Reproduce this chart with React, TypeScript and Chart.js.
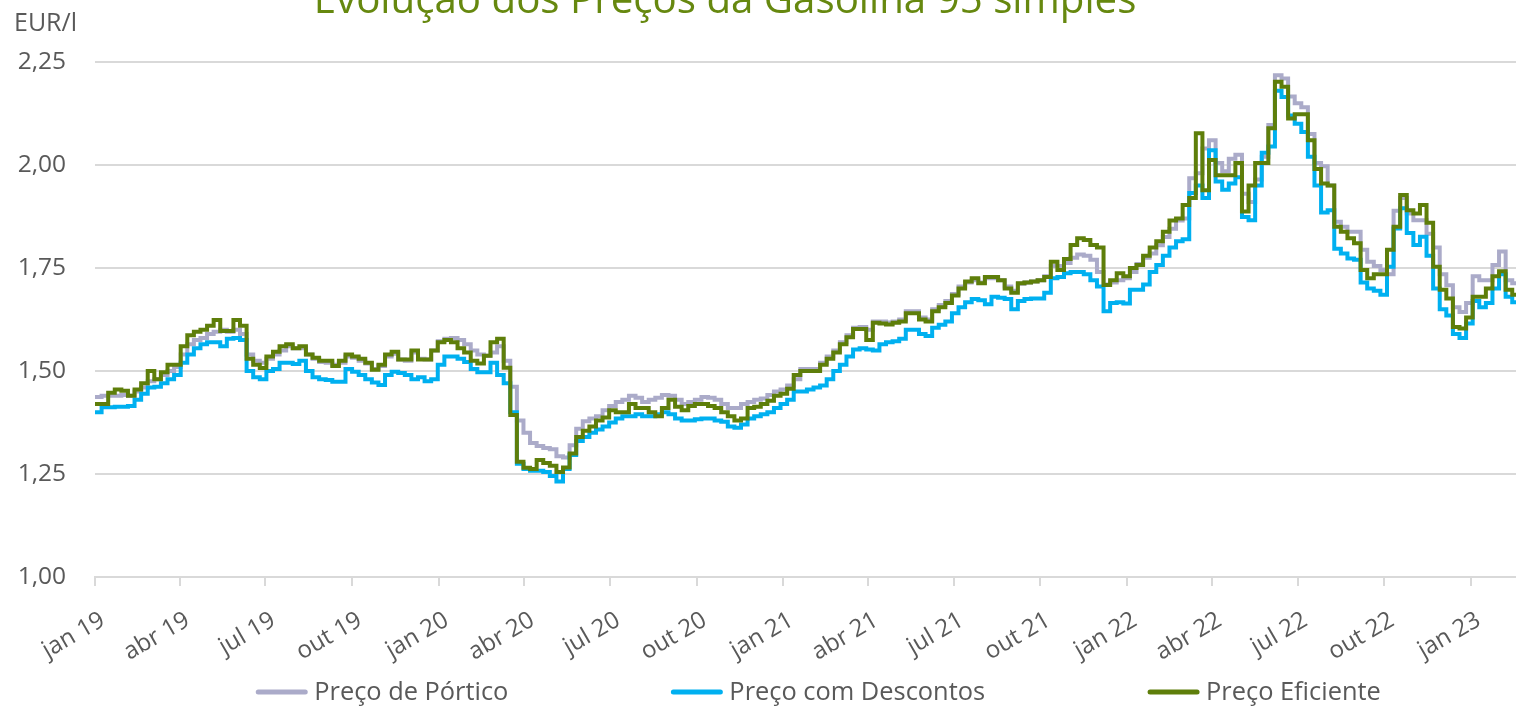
import React, { useEffect, useRef } from 'react';
import { Chart, registerables } from 'chart.js';

Chart.register(...registerables);

const TITLE = 'Evolução dos Preços da Gasolina 95 simples';
const Y_UNIT = 'EUR/l';
const SERIES_NAMES = ['Preço de Pórtico', 'Preço com Descontos', 'Preço Eficiente'];
const SERIES_COLORS = ['#ABABC9', '#00B0F0', '#5E7E0A'];

// quarter tick labels and their day offsets from 1 Jan 2019
const QUARTER_LABELS = ['jan 19', 'abr 19', 'jul 19', 'out 19', 'jan 20', 'abr 20', 'jul 20', 'out 20', 'jan 21', 'abr 21', 'jul 21', 'out 21', 'jan 22', 'abr 22', 'jul 22', 'out 22', 'jan 23'];
const QUARTER_DAYS = [0, 90, 181, 273, 365, 456, 547, 639, 731, 821, 912, 1004, 1096, 1186, 1277, 1369, 1461];
const Y_MIN = 1;
const Y_MAX = 2.25;
const Y_STEP = 0.25;
const DAYS_PER_POINT = 7; // weekly readings starting the first week of January 2019
const X_MAX_DAY = 1509;

const PORTICO = [
  1.437, 1.44, 1.44, 1.44, 1.442, 1.44, 1.45, 1.46, 1.475, 1.48,
  1.49, 1.50, 1.51, 1.54, 1.565, 1.575, 1.58, 1.59, 1.595, 1.60,
  1.595, 1.60, 1.59, 1.54, 1.525, 1.52, 1.53, 1.54, 1.55, 1.56,
  1.555, 1.555, 1.54, 1.53, 1.522, 1.52, 1.515, 1.52, 1.535, 1.532,
  1.525, 1.518, 1.505, 1.512, 1.535, 1.542, 1.528, 1.525, 1.545, 1.53,
  1.528, 1.55, 1.572, 1.578, 1.58, 1.575, 1.565, 1.55, 1.54, 1.537,
  1.545, 1.56, 1.525, 1.462, 1.38, 1.35, 1.325, 1.318, 1.313, 1.31,
  1.293, 1.29, 1.32, 1.36, 1.378, 1.385, 1.39, 1.405, 1.415, 1.425,
  1.43, 1.44, 1.435, 1.425, 1.43, 1.435, 1.442, 1.44, 1.43, 1.42,
  1.425, 1.43, 1.437, 1.435, 1.43, 1.42, 1.41, 1.41, 1.42, 1.425,
  1.43, 1.433, 1.442, 1.45, 1.455, 1.465, 1.48, 1.505, 1.505, 1.505,
  1.52, 1.535, 1.55, 1.57, 1.587, 1.605, 1.607, 1.60, 1.62, 1.62,
  1.618, 1.62, 1.625, 1.645, 1.645, 1.63, 1.625, 1.65, 1.66, 1.67,
  1.687, 1.705, 1.715, 1.72, 1.715, 1.725, 1.725, 1.72, 1.705, 1.695,
  1.712, 1.715, 1.717, 1.72, 1.73, 1.755, 1.755, 1.762, 1.775, 1.783,
  1.78, 1.77, 1.74, 1.71, 1.715, 1.72, 1.725, 1.74, 1.76, 1.775,
  1.785, 1.805, 1.825, 1.845, 1.865, 1.87, 1.968, 1.98, 2.04, 2.06,
  2.005, 1.985, 2.015, 2.025, 1.93, 1.91, 1.965, 2.02, 2.097, 2.218,
  2.21, 2.166, 2.15, 2.14, 2.075, 2.005, 1.997, 1.95, 1.862, 1.85,
  1.838, 1.838, 1.794, 1.765, 1.755, 1.745, 1.735, 1.889, 1.92, 1.882,
  1.866, 1.866, 1.833, 1.80, 1.735, 1.708, 1.655, 1.643, 1.665, 1.73,
  1.72, 1.72, 1.757, 1.79, 1.72, 1.713, 1.713,
];

const DESCONTOS = [
  1.40, 1.412, 1.412, 1.413, 1.413, 1.415, 1.43, 1.445, 1.46, 1.462,
  1.47, 1.48, 1.49, 1.52, 1.54, 1.555, 1.565, 1.57, 1.57, 1.56,
  1.578, 1.58, 1.575, 1.50, 1.485, 1.48, 1.50, 1.505, 1.52, 1.52,
  1.517, 1.525, 1.50, 1.485, 1.48, 1.478, 1.474, 1.474, 1.505, 1.498,
  1.49, 1.48, 1.472, 1.466, 1.49, 1.498, 1.495, 1.49, 1.48, 1.485,
  1.475, 1.48, 1.515, 1.535, 1.535, 1.53, 1.522, 1.505, 1.497, 1.497,
  1.52, 1.49, 1.47, 1.40, 1.275, 1.262, 1.258, 1.258, 1.255, 1.245,
  1.232, 1.262, 1.296, 1.33, 1.34, 1.35, 1.358, 1.365, 1.375, 1.385,
  1.39, 1.39, 1.395, 1.39, 1.39, 1.395, 1.40, 1.395, 1.385, 1.38,
  1.38, 1.383, 1.385, 1.385, 1.38, 1.377, 1.365, 1.362, 1.37, 1.385,
  1.39, 1.395, 1.40, 1.41, 1.42, 1.43, 1.45, 1.45, 1.455, 1.46,
  1.465, 1.48, 1.50, 1.515, 1.535, 1.552, 1.555, 1.552, 1.55, 1.565,
  1.57, 1.572, 1.578, 1.60, 1.60, 1.59, 1.585, 1.605, 1.612, 1.62,
  1.64, 1.655, 1.667, 1.675, 1.672, 1.662, 1.68, 1.678, 1.675, 1.65,
  1.67, 1.675, 1.676, 1.676, 1.69, 1.725, 1.728, 1.737, 1.74, 1.74,
  1.735, 1.72, 1.705, 1.645, 1.665, 1.667, 1.664, 1.697, 1.697, 1.71,
  1.74, 1.757, 1.78, 1.80, 1.815, 1.82, 1.932, 1.95, 1.92, 2.036,
  1.96, 1.94, 1.955, 1.97, 1.874, 1.866, 1.95, 2.03, 2.045, 2.18,
  2.165, 2.12, 2.10, 2.08, 2.02, 1.95, 1.885, 1.89, 1.797, 1.785,
  1.773, 1.77, 1.715, 1.70, 1.695, 1.685, 1.753, 1.846, 1.895, 1.835,
  1.806, 1.826, 1.78, 1.70, 1.65, 1.635, 1.59, 1.58, 1.615, 1.67,
  1.655, 1.665, 1.70, 1.735, 1.68, 1.667, 1.665,
];

const EFICIENTE = [
  1.42, 1.42, 1.447, 1.455, 1.452, 1.44, 1.455, 1.47, 1.50, 1.48,
  1.497, 1.515, 1.515, 1.56, 1.587, 1.595, 1.60, 1.61, 1.624, 1.597,
  1.597, 1.624, 1.61, 1.53, 1.515, 1.507, 1.535, 1.547, 1.56, 1.565,
  1.555, 1.56, 1.54, 1.532, 1.525, 1.525, 1.512, 1.525, 1.54, 1.535,
  1.53, 1.52, 1.503, 1.515, 1.54, 1.547, 1.528, 1.528, 1.55, 1.528,
  1.528, 1.55, 1.57, 1.575, 1.57, 1.555, 1.545, 1.525, 1.518, 1.537,
  1.57, 1.578, 1.508, 1.393, 1.28, 1.265, 1.262, 1.284, 1.277, 1.27,
  1.255, 1.266, 1.30, 1.34, 1.355, 1.365, 1.38, 1.387, 1.405, 1.40,
  1.40, 1.42, 1.41, 1.41, 1.40, 1.39, 1.41, 1.43, 1.413, 1.405,
  1.415, 1.42, 1.42, 1.415, 1.41, 1.40, 1.39, 1.38, 1.385, 1.41,
  1.413, 1.42, 1.428, 1.44, 1.445, 1.457, 1.49, 1.50, 1.50, 1.50,
  1.515, 1.53, 1.545, 1.565, 1.582, 1.602, 1.602, 1.575, 1.617, 1.615,
  1.613, 1.617, 1.62, 1.64, 1.64, 1.625, 1.62, 1.645, 1.655, 1.665,
  1.683, 1.70, 1.717, 1.725, 1.713, 1.728, 1.728, 1.72, 1.70, 1.69,
  1.713, 1.715, 1.717, 1.72, 1.728, 1.765, 1.745, 1.772, 1.806, 1.822,
  1.818, 1.806, 1.80, 1.709, 1.72, 1.737, 1.73, 1.75, 1.757, 1.78,
  1.80, 1.815, 1.838, 1.865, 1.87, 1.903, 1.92, 2.077, 1.939, 2.012,
  1.975, 1.975, 1.975, 2.005, 1.887, 1.95, 2.005, 2.005, 2.089, 2.202,
  2.19, 2.113, 2.123, 2.123, 2.06, 1.99, 1.955, 1.95, 1.85, 1.838,
  1.822, 1.81, 1.745, 1.725, 1.735, 1.735, 1.794, 1.85, 1.927, 1.89,
  1.882, 1.903, 1.86, 1.753, 1.697, 1.676, 1.607, 1.603, 1.63, 1.68,
  1.68, 1.70, 1.73, 1.742, 1.697, 1.685, 1.685,
];

const FONT = '"Open Sans", "DejaVu Sans", sans-serif';
const TEXT_COLOR = '#595959';
const GRID_COLOR = '#D9D9D9';

const toPoints = (arr: number[]) => arr.map((v, i) => ({ x: i * DAYS_PER_POINT, y: v }));
const fmt = (v: number) => v.toFixed(2).replace('.', ',');

const decorPlugin = {
  id: 'decor',
  afterDraw(chart: any) {
    const ctx = chart.ctx as CanvasRenderingContext2D;
    const area = chart.chartArea;
    ctx.save();
    // title (partly cut at the top in the reference)
    ctx.font = `100px ${FONT}`;
    const w100 = ctx.measureText(TITLE).width;
    const size = (100 * 823) / w100;
    ctx.font = `${size}px ${FONT}`;
    ctx.fillStyle = '#66880F';
    ctx.textAlign = 'center';
    ctx.textBaseline = 'alphabetic';
    ctx.fillText(TITLE, 725, 13);
    // unit label
    ctx.font = `25px ${FONT}`;
    ctx.fillStyle = TEXT_COLOR;
    ctx.textAlign = 'left';
    ctx.fillText(Y_UNIT, 14, 31);
    // legend
    ctx.font = `25.4px ${FONT}`;
    ctx.textBaseline = 'middle';
    const lineLen = 51;
    const textGap = 7;
    const itemGap = 163;
    const ds = chart.data.datasets;
    const widths = ds.map((d: any) => lineLen + textGap + ctx.measureText(d.label).width);
    const total = widths.reduce((a: number, b: number) => a + b, 0) + itemGap * (ds.length - 1);
    let x = (area.left + area.right) / 2 + 13 - total / 2;
    const y = 692;
    ds.forEach((d: any, i: number) => {
      ctx.strokeStyle = d.borderColor;
      ctx.lineWidth = 5;
      ctx.lineCap = 'round';
      ctx.beginPath();
      ctx.moveTo(x + 2, y);
      ctx.lineTo(x + lineLen - 2, y);
      ctx.stroke();
      ctx.fillStyle = TEXT_COLOR;
      ctx.fillText(d.label, x + lineLen + textGap, y + 1);
      x += widths[i] + itemGap;
    });
    ctx.restore();
  },
};

export default function App() {
  const canvasRef = useRef<HTMLCanvasElement | null>(null);

  useEffect(() => {
    if (!canvasRef.current) return;
    const series = [PORTICO, DESCONTOS, EFICIENTE];
    const chart = new Chart(canvasRef.current, {
      type: 'line',
      data: {
        datasets: series.map((arr, i) => ({
          label: SERIES_NAMES[i],
          data: toPoints(arr),
          borderColor: SERIES_COLORS[i],
          backgroundColor: SERIES_COLORS[i],
          borderWidth: 4,
          pointRadius: 0,
          stepped: true,
          fill: false,
          order: 2 - i,
        })),
      },
      options: {
        animation: false,
        responsive: true,
        maintainAspectRatio: false,
        layout: { padding: { top: 62, left: 0, right: 0, bottom: 0 } },
        plugins: {
          legend: { display: false },
          title: { display: false },
          tooltip: { enabled: false },
        },
        scales: {
          x: {
            type: 'linear',
            min: 0,
            max: X_MAX_DAY,
            afterBuildTicks: (scale: any) => {
              scale.ticks = QUARTER_DAYS.map((v) => ({ value: v }));
            },
            afterFit: (scale: any) => {
              scale.height = 131;
            },
            ticks: {
              autoSkip: false,
              maxRotation: 30,
              minRotation: 30,
              padding: 20,
              labelOffset: 8,
              color: TEXT_COLOR,
              font: { family: FONT, size: 24 },
              callback: (value: any) => {
                const idx = QUARTER_DAYS.indexOf(Number(value));
                return idx >= 0 ? QUARTER_LABELS[idx] : '';
              },
            },
            grid: {
              drawOnChartArea: false,
              drawTicks: true,
              tickLength: 9,
              color: GRID_COLOR,
              lineWidth: 2,
            },
            border: { display: true, color: GRID_COLOR, width: 2 },
          },
          y: {
            type: 'linear',
            min: Y_MIN,
            max: Y_MAX,
            afterFit: (scale: any) => {
              scale.width = 95;
            },
            ticks: {
              stepSize: Y_STEP,
              padding: 29,
              color: TEXT_COLOR,
              font: { family: FONT, size: 24.5 },
              callback: (value: any) => fmt(Number(value)),
            },
            grid: {
              color: GRID_COLOR,
              lineWidth: 2,
              drawTicks: false,
            },
            border: { display: false },
          },
        },
      },
      plugins: [decorPlugin],
    });
    return () => chart.destroy();
  }, []);

  return (
    <div style={{ position: 'absolute', left: 0, top: 0, width: 1516, height: 708, background: '#ffffff' }}>
      <canvas ref={canvasRef} />
    </div>
  );
}
